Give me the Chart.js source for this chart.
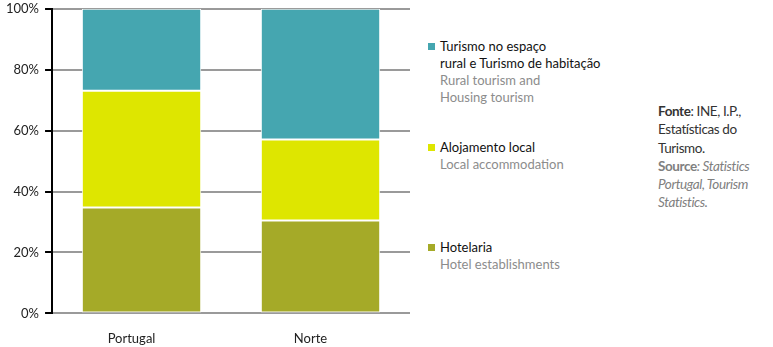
<!DOCTYPE html>
<html>
<head>
<meta charset="utf-8">
<script src="https://cdn.jsdelivr.net/npm/chart.js@4"></script>
<style>
  body { margin: 0; width: 773px; height: 347px; background: #fff; font-family: Lato, "Noto Sans", sans-serif; position: relative; overflow: hidden; }
  #wrap { position: absolute; left: 0; top: -5px; width: 420px; height: 362px; }
  .leg { position: absolute; left: 440px; font-size: 13px; line-height: 17px; color: #111; }
  .leg .en { color: #8c8c8c; }
  .leg .sq { position: absolute; left: -12px; top: 5px; width: 7px; height: 7px; }
  #fonte { position: absolute; left: 658px; top: 102px; font-size: 13.5px; line-height: 18.3px; color: #333; letter-spacing: -0.4px; }
  #fonte .src { color: #808080; }
</style>
</head>
<body>
<div id="wrap"><canvas id="grafico"></canvas></div>
<div id="legenda"></div>
<div id="fonte">
  <b>Fonte</b>: INE, I.P.,<br>Estatísticas do<br>Turismo.<br>
  <span class="src"><b>Source</b><i>: Statistics<br>Portugal, Tourism<br>Statistics.</i></span>
</div>
<script>
// Dados
const regioes = ['Portugal', 'Norte'];
const hotelaria = [34.8, 30.5];
const alojamentoLocal = [38.3, 26.6];
const turismoRural = [26.9, 42.9];
const ticksY = [0, 20, 40, 60, 80, 100];

const series = [
    { label: 'Hotelaria', en: ['Hotel establishments'], pt: ['Hotelaria'], data: hotelaria, cor: '#a5aa28', top: 239 },
    { label: 'Alojamento local', en: ['Local accommodation'], pt: ['Alojamento local'], data: alojamentoLocal, cor: '#dee600', top: 139 },
    { label: 'Turismo no espaço rural e Turismo de habitação', en: ['Rural tourism and', 'Housing tourism'], pt: ['Turismo no espaço', 'rural e Turismo de habitação'], data: turismoRural, cor: '#45a6b0', top: 38 }
];

// Legenda em HTML
const legenda = document.getElementById('legenda');
series.forEach(s => {
    const div = document.createElement('div');
    div.className = 'leg';
    div.style.top = s.top + 'px';
    div.innerHTML = `<span class="sq" style="background:${s.cor}"></span>${s.pt.join('<br>')}<br><span class="en">${s.en.join('<br>')}</span>`;
    legenda.appendChild(div);
});

const ctx = document.getElementById('grafico').getContext('2d');
new Chart(ctx, {
    type: 'bar',
    data: {
        labels: regioes,
        datasets: series.map(s => ({
            label: s.label,
            data: s.data,
            backgroundColor: s.cor,
            borderColor: '#ffffff',
            borderWidth: 1,
            borderSkipped: false,
            categoryPercentage: 1,
            barPercentage: 0.667
        }))
    },
    options: {
        responsive: true,
        maintainAspectRatio: false,
        animation: false,
        layout: { padding: { top: 3, left: 0, right: 10, bottom: 0 } },
        plugins: {
            legend: { display: false },
            tooltip: { enabled: false }
        },
        scales: {
            x: {
                stacked: true,
                grid: { display: false },
                border: { display: false },
                ticks: { color: '#222', font: { family: 'Lato', size: 13 }, padding: 10, labelOffset: -10 }
            },
            y: {
                stacked: true,
                min: 0,
                max: 100,
                afterBuildTicks: axis => { axis.ticks = ticksY.map(v => ({ value: v })); },
                border: { display: true, color: '#000', width: 2 },
                grid: { color: '#9a9a9a', lineWidth: 2, tickColor: '#000', tickLength: 7 },
                ticks: {
                    color: '#222',
                    font: { family: 'Lato', size: 13 },
                    padding: 6,
                    callback: v => v + '%'
                }
            }
        }
    }
});
</script>
</body>
</html>
